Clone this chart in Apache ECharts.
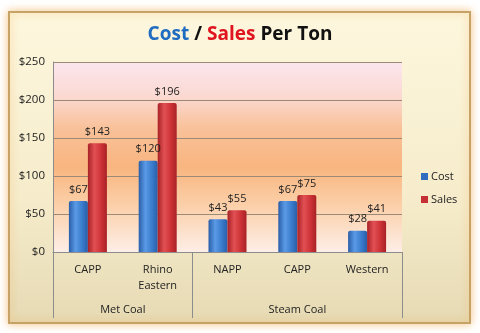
<!DOCTYPE html>
<html><head><meta charset="utf-8">
<script src="https://cdn.jsdelivr.net/npm/echarts@6/dist/echarts.min.js"></script>
<style>html,body{margin:0;padding:0;background:#fff}#c{width:480px;height:333px}</style>
</head><body><div id="c"></div>
<script>
var categories = ['CAPP', 'Rhino\nEastern', 'NAPP', 'CAPP', 'Western'];
var groups = ['Met Coal', 'Steam Coal'];
var groupBounds = [0, 2, 5];
var groupCenters = [1, 3.5];
var costValues = [67, 120, 43, 67, 28];
var salesValues = [143, 196, 55, 75, 41];
var yTicks = [0, 50, 100, 150, 200, 250];

var FONT = 'Open Sans';
var chart = echarts.init(document.getElementById('c'), null, {renderer: 'canvas'});

function barGrad(dark, mid, light) {
  return new echarts.graphic.LinearGradient(0, 0, 1, 0, [
    {offset: 0, color: dark}, {offset: 0.35, color: light}, {offset: 0.7, color: mid}, {offset: 1, color: dark}
  ]);
}

chart.setOption({
  animation: false,
  graphic: [{
    type: 'rect', z: -10, silent: true,
    shape: {x: 9, y: 12, width: 461, height: 311},
    style: {
      fill: new echarts.graphic.LinearGradient(0, 0, 0, 1, [
        {offset: 0, color: '#fdf7de'}, {offset: 0.6, color: '#f6eccb'}, {offset: 1, color: '#e6dab4'}
      ]),
      stroke: '#c6a266', lineWidth: 2,
      shadowBlur: 8, shadowColor: 'rgba(240,160,60,0.6)'
    }
  }],
  title: {
    text: '{b|Cost} {k|/} {r|Sales} {k|Per Ton}',
    left: 'center', top: 20,
    textStyle: {
      rich: {
        b: {color: '#1f6cc0', fontSize: 19, fontWeight: 'bold', fontFamily: FONT},
        r: {color: '#e0141e', fontSize: 19, fontWeight: 'bold', fontFamily: FONT},
        k: {color: '#111', fontSize: 19, fontWeight: 'bold', fontFamily: FONT}
      }
    }
  },
  legend: {
    orient: 'vertical', left: 416, top: 166,
    itemWidth: 7, itemHeight: 7, itemGap: 12, icon: 'rect',
    textStyle: {fontFamily: FONT, fontSize: 11, color: '#222', padding: [0, 0, 0, -2]},
    data: [{name: 'Cost', itemStyle: {color: '#2f6cc0'}}, {name: 'Sales', itemStyle: {color: '#c43034'}}]
  },
  grid: {
    left: 53, right: 78, top: 62, bottom: 81, show: true, borderWidth: 0,
    backgroundColor: new echarts.graphic.LinearGradient(0, 0, 0, 1, [
      {offset: 0, color: '#fbe6ee'},
      {offset: 0.18, color: '#fbd9d2'},
      {offset: 0.35, color: '#f9c199'},
      {offset: 0.55, color: '#f8b57f'},
      {offset: 0.75, color: '#fbcfa8'},
      {offset: 1, color: '#fdeee6'}
    ])
  },
  xAxis: [{
    type: 'category', data: categories, position: 'bottom',
    axisLine: {show: true, lineStyle: {color: '#8c8c8c', width: 1}},
    axisTick: {show: false},
    axisLabel: {fontFamily: FONT, fontSize: 11, color: '#222', margin: 10, lineHeight: 16, interval: 0},
    splitLine: {show: false}
  }, {
    type: 'value', min: 0, max: 5, position: 'bottom',
    axisLine: {show: false},
    axisTick: {show: true, customValues: groupBounds, length: 66, lineStyle: {color: '#8c8c8c'}},
    axisLabel: {
      customValues: groupCenters, margin: 52, fontFamily: FONT, fontSize: 11, color: '#222',
      formatter: function (v) { return groups[groupCenters.indexOf(v)]; }
    },
    splitLine: {show: false}
  }],
  yAxis: {
    type: 'value', min: 0, max: 250, interval: 50,
    axisLine: {show: true, lineStyle: {color: '#8c8c8c'}},
    axisTick: {show: false},
    axisLabel: {fontFamily: FONT, fontSize: 11.5, color: '#222', margin: 8,
      formatter: function (v) { return yTicks.indexOf(v) >= 0 ? '$' + v : ''; }},
    splitLine: {lineStyle: {color: '#9c8a74', width: 1}}
  },
  series: [{
    name: 'Cost', type: 'bar', xAxisIndex: 0, data: costValues, barWidth: 19, barGap: '0%',
    itemStyle: {color: barGrad('#2a5ea8', '#3a7ccc', '#5a9ae6'), borderRadius: [2, 2, 0, 0]},
    label: {show: true, position: 'top', distance: 6, fontFamily: FONT, fontSize: 11, color: '#222',
      formatter: function (p) { return '$' + p.value; }}
  }, {
    name: 'Sales', type: 'bar', xAxisIndex: 0, data: salesValues, barWidth: 19, barGap: '0%',
    itemStyle: {color: barGrad('#a82226', '#cc3236', '#e25054'), borderRadius: [2, 2, 0, 0]},
    label: {show: true, position: 'top', distance: 6, fontFamily: FONT, fontSize: 11, color: '#222',
      formatter: function (p) { return '$' + p.value; }}
  }]
});
</script></body></html>
